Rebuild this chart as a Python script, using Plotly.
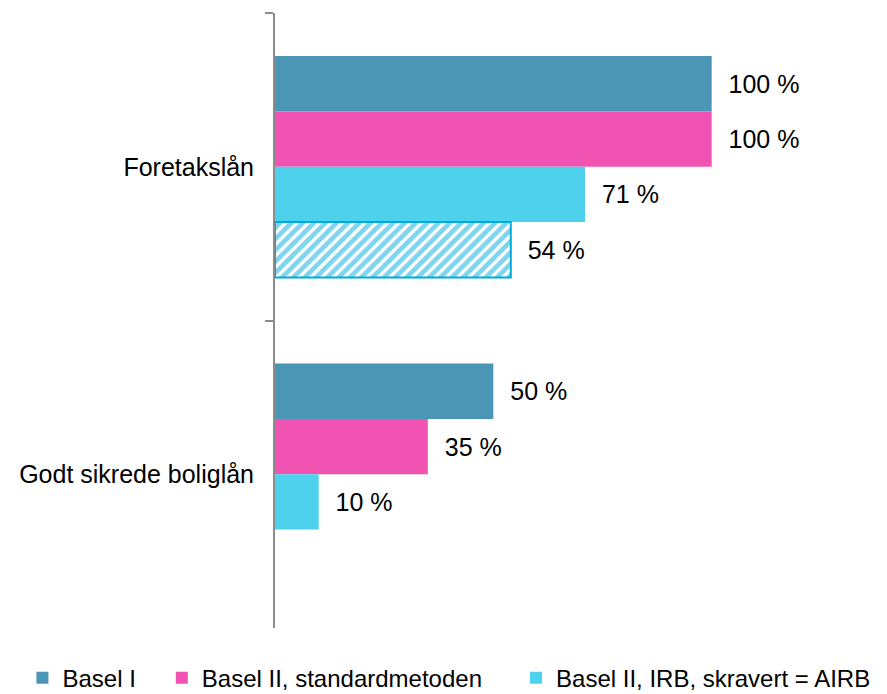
import plotly.graph_objects as go

CATEGORIES = ["Foretakslån", "Godt sikrede boliglån"]
BASEL_I = [100, 50]
BASEL_II_STD = [100, 35]
BASEL_II_IRB = [71, 10]
AIRB = [54, None]

SERIES_NAMES = ["Basel I", "Basel II, standardmetoden", "Basel II, IRB, skravert = AIRB"]
COLORS = ["#4a96b4", "#f053b1", "#4dd1ec"]
HATCH_COLOR = "#00aadd"
FONT = "Arial, Liberation Sans, sans-serif"
LEGEND_X = [-0.482, -0.216, 0.46]


def _labels(values):
    return [None if v is None else f"  {v} %" for v in values]


fig = go.Figure()
legend_ids = ["legend", "legend2", "legend3"]
for name, vals, color, lid in zip(SERIES_NAMES, [BASEL_I, BASEL_II_STD, BASEL_II_IRB], COLORS, legend_ids):
    fig.add_trace(
        go.Bar(
            y=CATEGORIES,
            x=vals,
            name=name,
            legend=lid,
            orientation="h",
            marker=dict(color=color, line=dict(width=0)),
            text=_labels(vals),
            textposition="outside",
            textfont=dict(color="#000000", size=25),
            cliponaxis=False,
        )
    )

fig.add_trace(
    go.Bar(
        y=CATEGORIES,
        x=AIRB,
        name="AIRB",
        orientation="h",
        showlegend=False,
        marker=dict(
            color="#ffffff",
            line=dict(color=HATCH_COLOR, width=2),
            pattern=dict(shape="/", fgcolor=HATCH_COLOR, bgcolor="#ffffff", size=8, solidity=0.6),
        ),
        text=_labels(AIRB),
        textposition="outside",
        textfont=dict(color="#000000", size=25),
        cliponaxis=False,
    )
)

legend_style = dict(
    orientation="h",
    xanchor="left",
    y=-0.045,
    yanchor="top",
    font=dict(size=24, color="#000000"),
    itemwidth=30,
    bgcolor="rgba(0,0,0,0)",
)

# page body adds an 8px offset, so the figure is sized to the remaining window
fig.update_layout(
    width=879,
    height=686,
    paper_bgcolor="#ffffff",
    plot_bgcolor="#ffffff",
    font=dict(family=FONT, size=25, color="#000000"),
    margin=dict(l=267, r=88, t=5, b=66, autoexpand=False),
    barmode="group",
    bargap=0.28,
    bargroupgap=0,
    xaxis=dict(range=[0, 120], visible=False),
    yaxis=dict(
        autorange="reversed",
        showline=True,
        linecolor="#8c8c8c",
        linewidth=2,
        ticks="outside",
        tickson="boundaries",
        ticklen=8,
        tickwidth=2,
        tickcolor="#8c8c8c",
        ticklabelstandoff=14,
        tickfont=dict(size=25, color="#000000"),
        showgrid=False,
    ),
    legend=dict(x=LEGEND_X[0], **legend_style),
    legend2=dict(x=LEGEND_X[1], **legend_style),
    legend3=dict(x=LEGEND_X[2], **legend_style),
)

fig.write_html("out.html")
